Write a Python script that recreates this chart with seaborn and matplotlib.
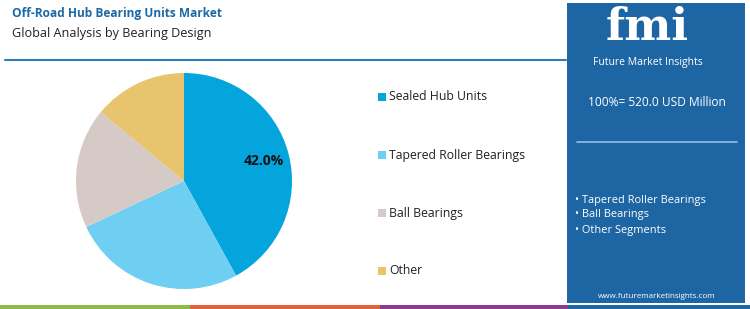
import matplotlib
matplotlib.use("Agg")
import matplotlib.pyplot as plt
from matplotlib.patches import Rectangle
import seaborn as sns

# ---- data ----
categories = ["Sealed Hub Units", "Tapered Roller Bearings", "Ball Bearings", "Other"]
shares = [42.0, 26.0, 18.0, 14.0]
colors = ["#03A5DC", "#6ECFF2", "#D6CAC6", "#E9C46E"]
title = "Off-Road Hub Bearing Units Market"
subtitle = "Global Analysis by Bearing Design"
total_text = "100%= 520.0 USD Million"
bullets = ["Tapered Roller Bearings", "Ball Bearings", "Other Segments"]
url = "www.futuremarketinsights.com"

sns.set_theme(style="white")
plt.rcParams["font.family"] = ["Open Sans", "DejaVu Sans"]

W, H = 750, 309
fig = plt.figure(figsize=(W / 100, H / 100), dpi=100)
fig.patch.set_facecolor("white")

def fx(x):
    return x / W

def fy(y):
    return 1 - y / H

# title texts
fig.text(fx(12), fy(14), title, color="#1C68A5", fontsize=8.6, fontweight="bold", va="center", ha="left")
fig.text(fx(12), fy(34), subtitle, color="#222222", fontsize=9.1, va="center", ha="left")
fig.add_artist(plt.Line2D([fx(5), fx(566)], [fy(60), fy(60)], color="#2F7DB8", lw=1.5))

# pie
cx, cy, r = 184, 181, 108
ax = fig.add_axes([fx(cx - r), fy(cy + r), 2 * r / W, 2 * r / H])
wedges, texts, autotexts = ax.pie(
    shares, colors=colors, startangle=90, counterclock=False,
    autopct="%1.1f%%", pctdistance=0.76,
    wedgeprops=dict(linewidth=0),
    textprops=dict(fontsize=10, fontweight="bold", color="#111111"),
)
for i, t in enumerate(autotexts):
    if i != 0:
        t.set_text("")
ax.set_xlim(-1, 1)
ax.set_ylim(-1, 1)
ax.set_aspect("auto")
ax.axis("off")

# legend
leg_y = [97, 155, 213, 271]
for cat, col, y in zip(categories, colors, leg_y):
    fig.add_artist(Rectangle((fx(378), fy(y + 4)), 8 / W, 8 / H, color=col, lw=0))
    fig.text(fx(389), fy(y), cat, fontsize=8.8, color="#222222", va="center", ha="left")

# right panel
panel = "#1E66A3"
fig.add_artist(Rectangle((fx(567), fy(303)), (745 - 567) / W, (303 - 3) / H, color=panel, lw=0))
fig.text(fx(647), fy(40), "fmi", fontsize=32, fontweight="bold", color="white",
         family=["DejaVu Serif"], ha="center", va="baseline")
fig.text(fx(648), fy(63), "Future Market Insights", fontsize=7.5, color="white", ha="center", va="center")
fig.text(fx(657), fy(103), total_text, fontsize=8.6, color="white", ha="center", va="center")
fig.add_artist(plt.Line2D([fx(577), fx(737)], [fy(142), fy(142)], color="#8EC3EA", lw=1.2))
for b, y in zip(bullets, [200, 215, 231]):
    fig.text(fx(575), fy(y), "\u2022 " + b, fontsize=7.9, color="white", ha="left", va="center")
fig.text(fx(657), fy(296), url, fontsize=5.8, color="white", ha="center", va="center")

# bottom color bars
bars = [(0, 190, "#8CBB45"), (190, 380, "#E0643A"), (380, 568, "#8D3A8E"), (568, 750, panel)]
for x0, x1, c in bars:
    fig.add_artist(Rectangle((fx(x0), 0), (x1 - x0) / W, 4 / H, color=c, lw=0))

fig.savefig("out.png", dpi=100)
